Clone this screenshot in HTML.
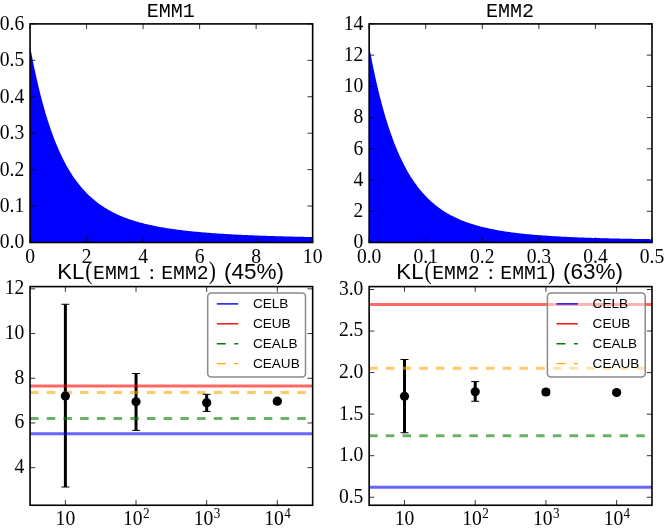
<!DOCTYPE html>
<html><head><meta charset="utf-8"><title>EMM KL chart</title>
<style>html,body{margin:0;padding:0;background:#fff;}svg{display:block;will-change:transform;}text{fill:#000;}</style>
</head><body>
<svg width="664" height="529" viewBox="0 0 664 529">
<rect width="664" height="529" fill="#fff"/>
<path d="M30.0,242.5L30.00,45.84 31.18,52.17 32.36,58.26 33.54,64.13 34.72,69.79 35.90,75.25 37.08,80.51 38.25,85.58 39.43,90.47 40.61,95.18 41.79,99.73 42.97,104.11 44.15,108.34 45.33,112.42 46.51,116.35 47.69,120.14 48.87,123.80 50.05,127.33 51.23,130.74 52.40,134.03 53.58,137.20 54.76,140.26 55.94,143.22 57.12,146.07 58.30,148.83 59.48,151.48 60.66,154.05 61.84,156.53 63.02,158.93 64.20,161.24 65.38,163.47 66.55,165.63 67.73,167.71 68.91,169.73 70.09,171.68 71.27,173.56 72.45,175.38 73.63,177.13 74.81,178.83 75.99,180.48 77.17,182.07 78.35,183.60 79.53,185.09 80.70,186.53 81.88,187.92 83.06,189.27 84.24,190.57 85.42,191.83 86.60,193.05 87.78,194.23 88.96,195.38 90.14,196.48 91.32,197.56 92.50,198.60 93.67,199.60 94.85,200.58 96.03,201.52 97.21,202.44 98.39,203.33 99.57,204.19 100.75,205.02 101.93,205.83 103.11,206.62 104.29,207.38 105.47,208.12 106.65,208.83 107.83,209.53 109.00,210.21 110.18,210.86 111.36,211.50 112.54,212.12 113.72,212.72 114.90,213.30 116.08,213.86 117.26,214.41 118.44,214.95 119.62,215.47 120.80,215.97 121.97,216.46 123.15,216.94 124.33,217.41 125.51,217.86 126.69,218.30 127.87,218.73 129.05,219.14 130.23,219.55 131.41,219.94 132.59,220.33 133.77,220.70 134.95,221.06 136.12,221.42 137.30,221.76 138.48,222.10 139.66,222.43 140.84,222.75 142.02,223.06 143.20,223.36 144.38,223.66 145.56,223.95 146.74,224.23 147.92,224.51 149.10,224.78 150.28,225.04 151.45,225.29 152.63,225.54 153.81,225.79 154.99,226.03 156.17,226.26 157.35,226.49 158.53,226.71 159.71,226.92 160.89,227.14 162.07,227.34 163.25,227.55 164.43,227.74 165.60,227.94 166.78,228.13 167.96,228.31 169.14,228.49 170.32,228.67 171.50,228.84 172.68,229.01 173.86,229.18 175.04,229.34 176.22,229.50 177.40,229.66 178.57,229.81 179.75,229.96 180.93,230.11 182.11,230.25 183.29,230.39 184.47,230.53 185.65,230.66 186.83,230.79 188.01,230.92 189.19,231.05 190.37,231.17 191.55,231.30 192.72,231.42 193.90,231.53 195.08,231.65 196.26,231.76 197.44,231.87 198.62,231.98 199.80,232.09 200.98,232.19 202.16,232.29 203.34,232.39 204.52,232.49 205.70,232.59 206.88,232.69 208.05,232.78 209.23,232.87 210.41,232.96 211.59,233.05 212.77,233.14 213.95,233.22 215.13,233.30 216.31,233.39 217.49,233.47 218.67,233.55 219.85,233.63 221.03,233.70 222.20,233.78 223.38,233.85 224.56,233.92 225.74,234.00 226.92,234.07 228.10,234.14 229.28,234.20 230.46,234.27 231.64,234.34 232.82,234.40 234.00,234.46 235.18,234.53 236.35,234.59 237.53,234.65 238.71,234.71 239.89,234.77 241.07,234.82 242.25,234.88 243.43,234.94 244.61,234.99 245.79,235.04 246.97,235.10 248.15,235.15 249.32,235.20 250.50,235.25 251.68,235.30 252.86,235.35 254.04,235.40 255.22,235.44 256.40,235.49 257.58,235.54 258.76,235.58 259.94,235.63 261.12,235.67 262.30,235.71 263.48,235.75 264.65,235.80 265.83,235.84 267.01,235.88 268.19,235.92 269.37,235.96 270.55,235.99 271.73,236.03 272.91,236.07 274.09,236.11 275.27,236.14 276.45,236.18 277.62,236.21 278.80,236.25 279.98,236.28 281.16,236.31 282.34,236.35 283.52,236.38 284.70,236.41 285.88,236.44 287.06,236.47 288.24,236.51 289.42,236.54 290.60,236.56 291.77,236.59 292.95,236.62 294.13,236.65 295.31,236.68 296.49,236.71 297.67,236.73 298.85,236.76 300.03,236.79 301.21,236.81 302.39,236.84 303.57,236.86 304.75,236.89 305.93,236.91 307.10,236.94 308.28,236.96 309.46,236.98 310.64,237.01 311.82,237.03 313.00,237.05L313.0,242.5Z" fill="#0000ff"/>
<path d="M30.05 242.5v-5.2M30.05 23.9v5.2M86.57 242.5v-5.2M86.57 23.9v5.2M143.09 242.5v-5.2M143.09 23.9v5.2M199.61 242.5v-5.2M199.61 23.9v5.2M256.13 242.5v-5.2M256.13 23.9v5.2M312.65 242.5v-5.2M312.65 23.9v5.2M30.05 242.50h5.2M312.65 242.50h-5.2M30.05 206.07h5.2M312.65 206.07h-5.2M30.05 169.63h5.2M312.65 169.63h-5.2M30.05 133.20h5.2M312.65 133.20h-5.2M30.05 96.77h5.2M312.65 96.77h-5.2M30.05 60.33h5.2M312.65 60.33h-5.2M30.05 23.90h5.2M312.65 23.90h-5.2" stroke="#000" stroke-width="0.8" fill="none"/>
<rect x="30.05" y="23.9" width="282.60" height="218.60" fill="none" stroke="#000" stroke-width="1.6"/>
<text transform="translate(24.30 248.40) scale(0.965 1)" text-anchor="end" font-family="Liberation Serif, serif" font-size="20.3">0.0</text>
<text transform="translate(24.30 211.97) scale(0.965 1)" text-anchor="end" font-family="Liberation Serif, serif" font-size="20.3">0.1</text>
<text transform="translate(24.30 175.53) scale(0.965 1)" text-anchor="end" font-family="Liberation Serif, serif" font-size="20.3">0.2</text>
<text transform="translate(24.30 139.10) scale(0.965 1)" text-anchor="end" font-family="Liberation Serif, serif" font-size="20.3">0.3</text>
<text transform="translate(24.30 102.67) scale(0.965 1)" text-anchor="end" font-family="Liberation Serif, serif" font-size="20.3">0.4</text>
<text transform="translate(24.30 66.23) scale(0.965 1)" text-anchor="end" font-family="Liberation Serif, serif" font-size="20.3">0.5</text>
<text transform="translate(24.30 29.80) scale(0.965 1)" text-anchor="end" font-family="Liberation Serif, serif" font-size="20.3">0.6</text>
<text transform="translate(30.05 263.00) scale(0.965 1)" text-anchor="middle" font-family="Liberation Serif, serif" font-size="20.3">0</text>
<text transform="translate(86.57 263.00) scale(0.965 1)" text-anchor="middle" font-family="Liberation Serif, serif" font-size="20.3">2</text>
<text transform="translate(143.09 263.00) scale(0.965 1)" text-anchor="middle" font-family="Liberation Serif, serif" font-size="20.3">4</text>
<text transform="translate(199.61 263.00) scale(0.965 1)" text-anchor="middle" font-family="Liberation Serif, serif" font-size="20.3">6</text>
<text transform="translate(256.13 263.00) scale(0.965 1)" text-anchor="middle" font-family="Liberation Serif, serif" font-size="20.3">8</text>
<text transform="translate(312.65 263.00) scale(0.965 1)" text-anchor="middle" font-family="Liberation Serif, serif" font-size="20.3">10</text>
<text transform="translate(170.80 17.00) scale(0.975 1)" text-anchor="middle" font-family="Liberation Mono, monospace" font-size="20.6">EMM1</text>
<path d="M369.3,242.5L369.30,47.17 370.48,53.51 371.66,59.62 372.84,65.52 374.02,71.21 375.20,76.69 376.38,81.99 377.55,87.09 378.73,92.02 379.91,96.77 381.09,101.36 382.27,105.79 383.45,110.06 384.63,114.19 385.81,118.17 386.99,122.01 388.17,125.72 389.35,129.30 390.53,132.75 391.70,136.09 392.88,139.32 394.06,142.43 395.24,145.43 396.42,148.34 397.60,151.14 398.78,153.85 399.96,156.46 401.14,158.99 402.32,161.43 403.50,163.79 404.68,166.07 405.85,168.28 407.03,170.41 408.21,172.46 409.39,174.45 410.57,176.38 411.75,178.24 412.93,180.03 414.11,181.77 415.29,183.45 416.47,185.08 417.65,186.65 418.82,188.17 420.00,189.65 421.18,191.07 422.36,192.45 423.54,193.78 424.72,195.07 425.90,196.32 427.08,197.53 428.26,198.70 429.44,199.83 430.62,200.93 431.80,201.99 432.98,203.02 434.15,204.02 435.33,204.98 436.51,205.92 437.69,206.82 438.87,207.70 440.05,208.55 441.23,209.38 442.41,210.18 443.59,210.95 444.77,211.70 445.95,212.43 447.12,213.14 448.30,213.82 449.48,214.49 450.66,215.13 451.84,215.76 453.02,216.37 454.20,216.96 455.38,217.53 456.56,218.08 457.74,218.62 458.92,219.14 460.10,219.65 461.27,220.15 462.45,220.63 463.63,221.09 464.81,221.54 465.99,221.98 467.17,222.41 468.35,222.82 469.53,223.23 470.71,223.62 471.89,224.00 473.07,224.37 474.25,224.73 475.43,225.08 476.60,225.42 477.78,225.76 478.96,226.08 480.14,226.39 481.32,226.70 482.50,227.00 483.68,227.29 484.86,227.57 486.04,227.84 487.22,228.11 488.40,228.37 489.57,228.63 490.75,228.87 491.93,229.11 493.11,229.35 494.29,229.58 495.47,229.80 496.65,230.02 497.83,230.23 499.01,230.44 500.19,230.64 501.37,230.83 502.55,231.03 503.73,231.21 504.90,231.40 506.08,231.57 507.26,231.75 508.44,231.92 509.62,232.08 510.80,232.24 511.98,232.40 513.16,232.56 514.34,232.71 515.52,232.85 516.70,233.00 517.88,233.14 519.05,233.27 520.23,233.41 521.41,233.54 522.59,233.67 523.77,233.79 524.95,233.91 526.13,234.03 527.31,234.15 528.49,234.26 529.67,234.37 530.85,234.48 532.02,234.59 533.20,234.69 534.38,234.80 535.56,234.90 536.74,234.99 537.92,235.09 539.10,235.18 540.28,235.27 541.46,235.36 542.64,235.45 543.82,235.54 545.00,235.62 546.17,235.70 547.35,235.78 548.53,235.86 549.71,235.94 550.89,236.02 552.07,236.09 553.25,236.16 554.43,236.23 555.61,236.30 556.79,236.37 557.97,236.44 559.15,236.51 560.33,236.57 561.50,236.63 562.68,236.69 563.86,236.76 565.04,236.81 566.22,236.87 567.40,236.93 568.58,236.99 569.76,237.04 570.94,237.09 572.12,237.15 573.30,237.20 574.48,237.25 575.65,237.30 576.83,237.35 578.01,237.40 579.19,237.44 580.37,237.49 581.55,237.54 582.73,237.58 583.91,237.62 585.09,237.67 586.27,237.71 587.45,237.75 588.62,237.79 589.80,237.83 590.98,237.87 592.16,237.91 593.34,237.94 594.52,237.98 595.70,238.02 596.88,238.05 598.06,238.09 599.24,238.12 600.42,238.16 601.60,238.19 602.77,238.22 603.95,238.25 605.13,238.28 606.31,238.31 607.49,238.34 608.67,238.37 609.85,238.40 611.03,238.43 612.21,238.46 613.39,238.49 614.57,238.51 615.75,238.54 616.92,238.57 618.10,238.59 619.28,238.62 620.46,238.64 621.64,238.67 622.82,238.69 624.00,238.71 625.18,238.74 626.36,238.76 627.54,238.78 628.72,238.80 629.90,238.83 631.07,238.85 632.25,238.87 633.43,238.89 634.61,238.91 635.79,238.93 636.97,238.95 638.15,238.97 639.33,238.99 640.51,239.00 641.69,239.02 642.87,239.04 644.05,239.06 645.22,239.07 646.40,239.09 647.58,239.11 648.76,239.12 649.94,239.14 651.12,239.16 652.30,239.17L652.3,242.5Z" fill="#0000ff"/>
<path d="M369.15 242.5v-5.2M369.15 23.9v5.2M425.72 242.5v-5.2M425.72 23.9v5.2M482.29 242.5v-5.2M482.29 23.9v5.2M538.86 242.5v-5.2M538.86 23.9v5.2M595.43 242.5v-5.2M595.43 23.9v5.2M652.00 242.5v-5.2M652.00 23.9v5.2M369.15 242.50h5.2M652.0 242.50h-5.2M369.15 211.27h5.2M652.0 211.27h-5.2M369.15 180.04h5.2M652.0 180.04h-5.2M369.15 148.81h5.2M652.0 148.81h-5.2M369.15 117.59h5.2M652.0 117.59h-5.2M369.15 86.36h5.2M652.0 86.36h-5.2M369.15 55.13h5.2M652.0 55.13h-5.2M369.15 23.90h5.2M652.0 23.90h-5.2" stroke="#000" stroke-width="0.8" fill="none"/>
<rect x="369.15" y="23.9" width="282.85" height="218.60" fill="none" stroke="#000" stroke-width="1.6"/>
<text transform="translate(363.40 248.40) scale(0.965 1)" text-anchor="end" font-family="Liberation Serif, serif" font-size="20.3">0</text>
<text transform="translate(363.40 217.17) scale(0.965 1)" text-anchor="end" font-family="Liberation Serif, serif" font-size="20.3">2</text>
<text transform="translate(363.40 185.94) scale(0.965 1)" text-anchor="end" font-family="Liberation Serif, serif" font-size="20.3">4</text>
<text transform="translate(363.40 154.71) scale(0.965 1)" text-anchor="end" font-family="Liberation Serif, serif" font-size="20.3">6</text>
<text transform="translate(363.40 123.49) scale(0.965 1)" text-anchor="end" font-family="Liberation Serif, serif" font-size="20.3">8</text>
<text transform="translate(363.40 92.26) scale(0.965 1)" text-anchor="end" font-family="Liberation Serif, serif" font-size="20.3">10</text>
<text transform="translate(363.40 61.03) scale(0.965 1)" text-anchor="end" font-family="Liberation Serif, serif" font-size="20.3">12</text>
<text transform="translate(363.40 29.80) scale(0.965 1)" text-anchor="end" font-family="Liberation Serif, serif" font-size="20.3">14</text>
<text transform="translate(369.15 263.00) scale(0.965 1)" text-anchor="middle" font-family="Liberation Serif, serif" font-size="20.3">0.0</text>
<text transform="translate(425.72 263.00) scale(0.965 1)" text-anchor="middle" font-family="Liberation Serif, serif" font-size="20.3">0.1</text>
<text transform="translate(482.29 263.00) scale(0.965 1)" text-anchor="middle" font-family="Liberation Serif, serif" font-size="20.3">0.2</text>
<text transform="translate(538.86 263.00) scale(0.965 1)" text-anchor="middle" font-family="Liberation Serif, serif" font-size="20.3">0.3</text>
<text transform="translate(595.43 263.00) scale(0.965 1)" text-anchor="middle" font-family="Liberation Serif, serif" font-size="20.3">0.4</text>
<text transform="translate(652.00 263.00) scale(0.965 1)" text-anchor="middle" font-family="Liberation Serif, serif" font-size="20.3">0.5</text>
<text transform="translate(510.00 17.00) scale(0.975 1)" text-anchor="middle" font-family="Liberation Mono, monospace" font-size="20.6">EMM2</text>
<path d="M65.38 304.25V487.00" stroke="#000" stroke-width="3.0" fill="none"/>
<path d="M136.03 373.50V430.40" stroke="#000" stroke-width="3.0" fill="none"/>
<path d="M206.67 394.30V411.40" stroke="#000" stroke-width="3.0" fill="none"/>
<path d="M277.32 399.00V403.50" stroke="#000" stroke-width="3.0" fill="none"/>
<line x1="30.05" x2="312.65" y1="433.68" y2="433.68" stroke="#0000ff" stroke-opacity="0.6" stroke-width="3.0"/>
<line x1="30.05" x2="312.65" y1="386.07" y2="386.07" stroke="#ff0000" stroke-opacity="0.6" stroke-width="3.0"/>
<line x1="30.05" x2="312.65" y1="418.48" y2="418.48" stroke="#008000" stroke-opacity="0.6" stroke-width="3.0" stroke-dasharray="8.5 8.2"/>
<line x1="30.05" x2="312.65" y1="392.55" y2="392.55" stroke="#ffa500" stroke-opacity="0.6" stroke-width="3.0" stroke-dasharray="8.5 8.2"/>
<path d="M61.38 304.25h8M61.38 487.00h8" stroke="#000" stroke-width="1" fill="none"/>
<circle cx="65.38" cy="395.90" r="4.6" fill="#000"/>
<path d="M132.03 373.50h8M132.03 430.40h8" stroke="#000" stroke-width="1" fill="none"/>
<circle cx="136.03" cy="401.80" r="4.6" fill="#000"/>
<path d="M202.67 394.30h8M202.67 411.40h8" stroke="#000" stroke-width="1" fill="none"/>
<circle cx="206.67" cy="402.70" r="4.6" fill="#000"/>
<path d="M273.32 399.00h8M273.32 403.50h8" stroke="#000" stroke-width="1" fill="none"/>
<circle cx="277.32" cy="401.20" r="4.6" fill="#000"/>
<path d="M65.38 505.25v-5.2M65.38 286.6v5.2M136.03 505.25v-5.2M136.03 286.6v5.2M206.67 505.25v-5.2M206.67 286.6v5.2M277.32 505.25v-5.2M277.32 286.6v5.2M30.05 467.65h5.2M312.65 467.65h-5.2M30.05 422.95h5.2M312.65 422.95h-5.2M30.05 378.25h5.2M312.65 378.25h-5.2M30.05 333.55h5.2M312.65 333.55h-5.2M30.05 288.85h5.2M312.65 288.85h-5.2" stroke="#000" stroke-width="0.8" fill="none"/>
<rect x="30.05" y="286.6" width="282.60" height="218.65" fill="none" stroke="#000" stroke-width="1.6"/>
<text transform="translate(24.25 473.05) scale(0.965 1)" text-anchor="end" font-family="Liberation Serif, serif" font-size="20.3">4</text>
<text transform="translate(24.25 428.35) scale(0.965 1)" text-anchor="end" font-family="Liberation Serif, serif" font-size="20.3">6</text>
<text transform="translate(24.25 383.65) scale(0.965 1)" text-anchor="end" font-family="Liberation Serif, serif" font-size="20.3">8</text>
<text transform="translate(24.25 338.95) scale(0.965 1)" text-anchor="end" font-family="Liberation Serif, serif" font-size="20.3">10</text>
<text transform="translate(24.25 294.25) scale(0.965 1)" text-anchor="end" font-family="Liberation Serif, serif" font-size="20.3">12</text>
<text transform="translate(65.38 524.60) scale(0.965 1)" text-anchor="middle" font-family="Liberation Serif, serif" font-size="20.3">10</text>
<text transform="translate(123.03 524.60) scale(0.965 1)" text-anchor="start" font-family="Liberation Serif, serif" font-size="20.3">10<tspan dy="-6.6" dx="0.4" font-size="13.6">2</tspan></text>
<text transform="translate(193.67 524.60) scale(0.965 1)" text-anchor="start" font-family="Liberation Serif, serif" font-size="20.3">10<tspan dy="-6.6" dx="0.4" font-size="13.6">3</tspan></text>
<text transform="translate(264.32 524.60) scale(0.965 1)" text-anchor="start" font-family="Liberation Serif, serif" font-size="20.3">10<tspan dy="-6.6" dx="0.4" font-size="13.6">4</tspan></text>
<rect x="207.70000000000002" y="292.9" width="97.79999999999998" height="84.10" rx="3.5" fill="#fff" fill-opacity="0.5" stroke="#8a8a8a" stroke-width="1.5"/>
<line x1="216.8" x2="238.20000000000002" y1="303.90" y2="303.90" stroke="#0000ff" stroke-width="1.4"/>
<text transform="translate(252.90 308.30) scale(1.0 1)" text-anchor="start" font-family="Liberation Sans, sans-serif" font-size="13.6">CELB</text>
<line x1="216.8" x2="238.20000000000002" y1="323.80" y2="323.80" stroke="#ff0000" stroke-width="1.4"/>
<text transform="translate(252.90 328.20) scale(1.0 1)" text-anchor="start" font-family="Liberation Sans, sans-serif" font-size="13.6">CEUB</text>
<line x1="216.8" x2="238.20000000000002" y1="343.70" y2="343.70" stroke="#008000" stroke-width="1.4" stroke-dasharray="9 8.5"/>
<text transform="translate(252.90 348.10) scale(1.0 1)" text-anchor="start" font-family="Liberation Sans, sans-serif" font-size="13.6">CEALB</text>
<line x1="216.8" x2="238.20000000000002" y1="363.60" y2="363.60" stroke="#ffa500" stroke-width="1.4" stroke-dasharray="9 8.5"/>
<text transform="translate(252.90 368.00) scale(1.0 1)" text-anchor="start" font-family="Liberation Sans, sans-serif" font-size="13.6">CEAUB</text>
<text transform="translate(57.25 279.10) scale(1.0 1)" text-anchor="start" font-family="Liberation Sans, sans-serif" font-size="22.2">KL</text>
<text transform="translate(85.35 279.40) scale(0.82 1)" text-anchor="start" font-family="Liberation Serif, serif" font-size="26.2">(</text>
<text transform="translate(93.05 279.10) scale(0.96 1)" text-anchor="start" font-family="Liberation Mono, monospace" font-size="20.6">EMM1</text>
<text transform="translate(148.65 279.10) scale(1.0 1)" text-anchor="start" font-family="Liberation Serif, serif" font-size="22">:</text>
<text transform="translate(161.25 279.10) scale(0.96 1)" text-anchor="start" font-family="Liberation Mono, monospace" font-size="20.6">EMM2</text>
<text transform="translate(208.85 279.40) scale(0.82 1)" text-anchor="start" font-family="Liberation Serif, serif" font-size="26.2">)</text>
<text transform="translate(223.95 279.10) scale(1.0 1)" text-anchor="start" font-family="Liberation Sans, sans-serif" font-size="22.5">(45%)</text>
<path d="M404.51 359.50V432.75" stroke="#000" stroke-width="3.0" fill="none"/>
<path d="M475.22 381.60V401.25" stroke="#000" stroke-width="3.0" fill="none"/>
<path d="M545.93 389.30V394.90" stroke="#000" stroke-width="3.0" fill="none"/>
<path d="M616.64 391.00V394.00" stroke="#000" stroke-width="3.0" fill="none"/>
<line x1="369.15" x2="652.0" y1="487.28" y2="487.28" stroke="#0000ff" stroke-opacity="0.6" stroke-width="3.0"/>
<line x1="369.15" x2="652.0" y1="304.62" y2="304.62" stroke="#ff0000" stroke-opacity="0.6" stroke-width="3.0"/>
<line x1="369.15" x2="652.0" y1="435.76" y2="435.76" stroke="#008000" stroke-opacity="0.6" stroke-width="3.0" stroke-dasharray="8.5 8.2"/>
<line x1="369.15" x2="652.0" y1="368.28" y2="368.28" stroke="#ffa500" stroke-opacity="0.6" stroke-width="3.0" stroke-dasharray="8.5 8.2"/>
<path d="M400.51 359.50h8M400.51 432.75h8" stroke="#000" stroke-width="1" fill="none"/>
<circle cx="404.51" cy="396.25" r="4.6" fill="#000"/>
<path d="M471.22 381.60h8M471.22 401.25h8" stroke="#000" stroke-width="1" fill="none"/>
<circle cx="475.22" cy="391.75" r="4.6" fill="#000"/>
<path d="M541.93 389.30h8M541.93 394.90h8" stroke="#000" stroke-width="1" fill="none"/>
<circle cx="545.93" cy="392.00" r="4.6" fill="#000"/>
<path d="M612.64 391.00h8M612.64 394.00h8" stroke="#000" stroke-width="1" fill="none"/>
<circle cx="616.64" cy="392.50" r="4.6" fill="#000"/>
<path d="M404.51 505.25v-5.2M404.51 286.6v5.2M475.22 505.25v-5.2M475.22 286.6v5.2M545.93 505.25v-5.2M545.93 286.6v5.2M616.64 505.25v-5.2M616.64 286.6v5.2M369.15 497.25h5.2M652.0 497.25h-5.2M369.15 455.70h5.2M652.0 455.70h-5.2M369.15 414.15h5.2M652.0 414.15h-5.2M369.15 372.60h5.2M652.0 372.60h-5.2M369.15 331.05h5.2M652.0 331.05h-5.2M369.15 289.50h5.2M652.0 289.50h-5.2" stroke="#000" stroke-width="0.8" fill="none"/>
<rect x="369.15" y="286.6" width="282.85" height="218.65" fill="none" stroke="#000" stroke-width="1.6"/>
<text transform="translate(363.35 502.65) scale(0.965 1)" text-anchor="end" font-family="Liberation Serif, serif" font-size="20.3">0.5</text>
<text transform="translate(363.35 461.10) scale(0.965 1)" text-anchor="end" font-family="Liberation Serif, serif" font-size="20.3">1.0</text>
<text transform="translate(363.35 419.55) scale(0.965 1)" text-anchor="end" font-family="Liberation Serif, serif" font-size="20.3">1.5</text>
<text transform="translate(363.35 378.00) scale(0.965 1)" text-anchor="end" font-family="Liberation Serif, serif" font-size="20.3">2.0</text>
<text transform="translate(363.35 336.45) scale(0.965 1)" text-anchor="end" font-family="Liberation Serif, serif" font-size="20.3">2.5</text>
<text transform="translate(363.35 294.90) scale(0.965 1)" text-anchor="end" font-family="Liberation Serif, serif" font-size="20.3">3.0</text>
<text transform="translate(404.51 524.60) scale(0.965 1)" text-anchor="middle" font-family="Liberation Serif, serif" font-size="20.3">10</text>
<text transform="translate(462.22 524.60) scale(0.965 1)" text-anchor="start" font-family="Liberation Serif, serif" font-size="20.3">10<tspan dy="-6.6" dx="0.4" font-size="13.6">2</tspan></text>
<text transform="translate(532.93 524.60) scale(0.965 1)" text-anchor="start" font-family="Liberation Serif, serif" font-size="20.3">10<tspan dy="-6.6" dx="0.4" font-size="13.6">3</tspan></text>
<text transform="translate(603.64 524.60) scale(0.965 1)" text-anchor="start" font-family="Liberation Serif, serif" font-size="20.3">10<tspan dy="-6.6" dx="0.4" font-size="13.6">4</tspan></text>
<rect x="547.4" y="292.9" width="97.80000000000007" height="84.10" rx="3.5" fill="#fff" fill-opacity="0.5" stroke="#8a8a8a" stroke-width="1.5"/>
<line x1="556.5" x2="577.9" y1="303.90" y2="303.90" stroke="#0000ff" stroke-width="1.4"/>
<text transform="translate(592.60 308.30) scale(1.0 1)" text-anchor="start" font-family="Liberation Sans, sans-serif" font-size="13.6">CELB</text>
<line x1="556.5" x2="577.9" y1="323.80" y2="323.80" stroke="#ff0000" stroke-width="1.4"/>
<text transform="translate(592.60 328.20) scale(1.0 1)" text-anchor="start" font-family="Liberation Sans, sans-serif" font-size="13.6">CEUB</text>
<line x1="556.5" x2="577.9" y1="343.70" y2="343.70" stroke="#008000" stroke-width="1.4" stroke-dasharray="9 8.5"/>
<text transform="translate(592.60 348.10) scale(1.0 1)" text-anchor="start" font-family="Liberation Sans, sans-serif" font-size="13.6">CEALB</text>
<line x1="556.5" x2="577.9" y1="363.60" y2="363.60" stroke="#ffa500" stroke-width="1.4" stroke-dasharray="9 8.5"/>
<text transform="translate(592.60 368.00) scale(1.0 1)" text-anchor="start" font-family="Liberation Sans, sans-serif" font-size="13.6">CEAUB</text>
<text transform="translate(396.35 279.10) scale(1.0 1)" text-anchor="start" font-family="Liberation Sans, sans-serif" font-size="22.2">KL</text>
<text transform="translate(424.45 279.40) scale(0.82 1)" text-anchor="start" font-family="Liberation Serif, serif" font-size="26.2">(</text>
<text transform="translate(432.15 279.10) scale(0.96 1)" text-anchor="start" font-family="Liberation Mono, monospace" font-size="20.6">EMM2</text>
<text transform="translate(487.75 279.10) scale(1.0 1)" text-anchor="start" font-family="Liberation Serif, serif" font-size="22">:</text>
<text transform="translate(500.35 279.10) scale(0.96 1)" text-anchor="start" font-family="Liberation Mono, monospace" font-size="20.6">EMM1</text>
<text transform="translate(547.95 279.40) scale(0.82 1)" text-anchor="start" font-family="Liberation Serif, serif" font-size="26.2">)</text>
<text transform="translate(563.05 279.10) scale(1.0 1)" text-anchor="start" font-family="Liberation Sans, sans-serif" font-size="22.5">(63%)</text>
</svg>
</body></html>
